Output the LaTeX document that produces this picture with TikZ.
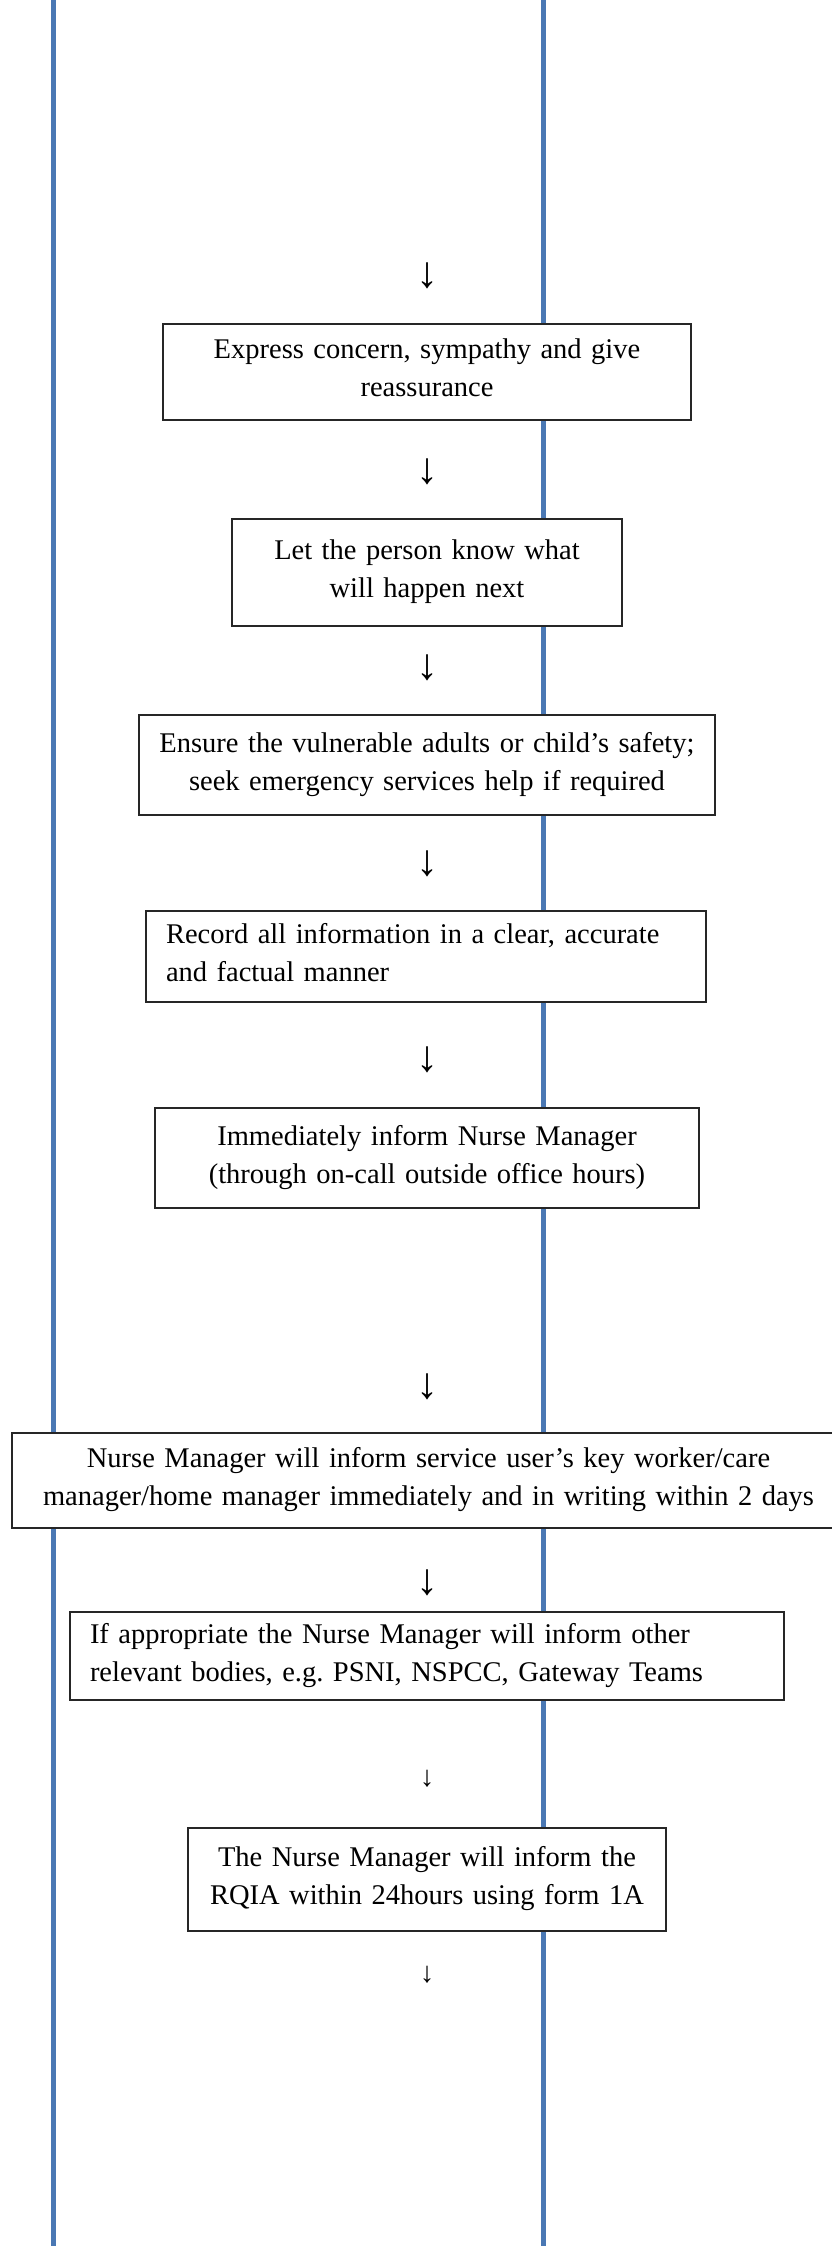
\documentclass[tikz,border=0pt]{standalone}
\usepackage{fontspec}
\setmainfont{Liberation Serif}
\frenchspacing
\definecolor{lineblue}{RGB}{74,120,180}
\begin{document}
\begin{tikzpicture}[x=1pt,y=-1pt,
  stepbox/.style={draw=black!85,line width=1.2pt,fill=white,inner ysep=0pt,
    font=\fontsize{28.5}{38}\selectfont},
  cbox/.style={stepbox,align=center,inner xsep=8pt},
  lbox/.style={stepbox,align=left,inner xsep=20pt},
  arr/.style={font=\fontsize{44}{46}\selectfont,inner sep=0pt},
  sarr/.style={font=\fontsize{29}{30}\selectfont,inner sep=0pt},
  vline/.style={draw=lineblue,line width=5pt}]
\useasboundingbox (0,0) rectangle (831,2246);
\coordinate (lt) at (53.5,-10);
\coordinate (lb) at (53.5,2260);
\coordinate (rt) at (543,-10);
\coordinate (rb) at (543,2260);
\draw[vline] (lt) -- (lb);
\draw[vline] (rt) -- (rb);

\node[arr] (a1) at (427,276) {↓};
\node[cbox,text width=512pt,minimum height=96pt] (b1) at (427,372)
  {Express concern, sympathy and give\\reassurance\\[-30pt]\mbox{}};
\node[arr] (a2) at (427,472) {↓};
\node[cbox,text width=374pt,minimum height=107pt] (b2) at (427,572.5)
  {Let the person know what\\will happen next\\[-30pt]\mbox{}};
\node[arr] (a3) at (427,668) {↓};
\node[cbox,text width=560pt,minimum height=100pt] (b3) at (427,765)
  {Ensure the vulnerable adults or child’s safety;\\seek emergency services help if required\\[-30pt]\mbox{}};
\node[arr] (a4) at (427,864) {↓};
\node[lbox,text width=520pt,minimum height=91pt] (b4) at (426,956.5)
  {Record all information in a clear, accurate\\and factual manner\\[-30pt]\mbox{}};
\node[arr] (a5) at (427,1060) {↓};
\node[cbox,text width=528pt,minimum height=100pt] (b5) at (427,1158)
  {Immediately inform Nurse Manager\\(through on-call outside office hours)\\[-30pt]\mbox{}};
\node[arr] (a6) at (427,1387) {↓};
\node[cbox,text width=817pt,minimum height=95pt] (b6) at (428.5,1480.5)
  {Nurse Manager will inform service user’s key worker/care\\manager/home manager immediately and in writing within 2 days\\[-30pt]\mbox{}};
\node[arr] (a7) at (427,1583) {↓};
\node[lbox,text width=674pt,minimum height=88pt] (b7) at (427,1656)
  {If appropriate the Nurse Manager will inform other\\relevant bodies, e.g. PSNI, NSPCC, Gateway Teams\\[-30pt]\mbox{}};
\node[sarr] (a8) at (427,1779) {↓};
\node[cbox,text width=462pt,minimum height=103pt] (b8) at (427,1879.5)
  {The Nurse Manager will inform the\\RQIA within 24hours using form 1A\\[-30pt]\mbox{}};
\node[sarr] (a9) at (427,1975) {↓};
\end{tikzpicture}
\end{document}
